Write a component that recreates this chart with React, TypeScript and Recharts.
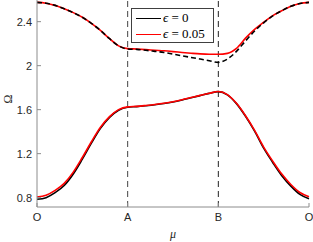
import React from 'react';
import { LineChart, Line, XAxis, YAxis, ReferenceLine } from 'recharts';

// path coordinate along O -> A -> B -> O
const mu = [
  0, 0.1, 0.2, 0.3, 0.4, 0.5, 0.6, 0.7, 0.8, 0.9, 1.0,
  1.1, 1.2, 1.3, 1.4, 1.5, 1.6, 1.7, 1.8, 1.9, 2.0,
  2.1, 2.2, 2.3, 2.4, 2.5, 2.6, 2.7, 2.8, 2.9, 3.0,
];

const lowerEps0 = [
  0.785, 0.8, 0.845, 0.91, 1.015, 1.15, 1.295, 1.43, 1.53, 1.595, 1.622,
  1.628, 1.636, 1.645, 1.656, 1.67, 1.688, 1.708, 1.728, 1.748, 1.764,
  1.735, 1.655, 1.54, 1.405, 1.25, 1.12, 1.0, 0.905, 0.83, 0.79,
];
const lowerEps005 = [
  0.806, 0.822, 0.866, 0.93, 1.032, 1.165, 1.308, 1.44, 1.536, 1.6, 1.625,
  1.63, 1.638, 1.647, 1.658, 1.672, 1.69, 1.71, 1.73, 1.749, 1.765,
  1.737, 1.658, 1.545, 1.412, 1.26, 1.132, 1.014, 0.92, 0.847, 0.808,
];
const upperEps0 = [
  2.575, 2.568, 2.548, 2.517, 2.482, 2.44, 2.385, 2.32, 2.245, 2.18, 2.152,
  2.148, 2.14, 2.13, 2.12, 2.105, 2.09, 2.075, 2.06, 2.045, 2.03,
  2.06, 2.13, 2.225, 2.315, 2.39, 2.452, 2.5, 2.54, 2.565, 2.575,
];
const upperEps005 = [
  2.575, 2.568, 2.548, 2.517, 2.482, 2.44, 2.385, 2.32, 2.245, 2.18, 2.155,
  2.151, 2.146, 2.14, 2.135, 2.128, 2.12, 2.113, 2.107, 2.104, 2.104,
  2.112, 2.158, 2.25, 2.33, 2.395, 2.455, 2.5, 2.54, 2.565, 2.575,
];

const xTicks = [0, 1, 2, 3];
const xLabels = ['O', 'A', 'B', 'O'];
const yTicks = [0.8, 1.2, 1.6, 2, 2.4];
const legendItems = [
  { value: '0', color: '#000000' },
  { value: '0.05', color: '#ff0000' },
];

const data = mu.map((m, i) => ({
  mu: m,
  lo0: lowerEps0[i],
  lo5: lowerEps005[i],
  up0: upperEps0[i],
  up5: upperEps005[i],
}));

const axisColor = '#8c8c8c';
const tickStyle = { fontSize: 11, fill: '#262626', fontFamily: 'Liberation Sans, Arial, sans-serif' };

function LegendBox() {
  return (
    <div
      style={{
        position: 'absolute',
        left: 131,
        top: 8,
        width: 83,
        height: 35,
        border: '1px solid #404040',
        background: '#fff',
        fontFamily: '"Liberation Serif", "Times New Roman", serif',
        fontSize: 13,
        color: '#000',
        paddingTop: 1,
        boxSizing: 'border-box',
      }}
    >
      {legendItems.map((it, i) => (
        <div key={i} style={{ display: 'flex', alignItems: 'center', height: 16, whiteSpace: 'nowrap' }}>
          <div style={{ width: 25, height: 0, borderTop: `1.3px solid ${it.color}`, marginLeft: 4, marginRight: 2 }} />
          <span>
            <i>ϵ</i>&nbsp;=&nbsp;{it.value}
          </span>
        </div>
      ))}
    </div>
  );
}

export default function App() {
  return (
    <div style={{ position: 'fixed', left: 0, top: 0, width: 313, height: 242, background: '#fff' }}>
      <LineChart width={313} height={242} data={data} margin={{ top: 0, right: 4, bottom: 0, left: 0 }}>
        <XAxis
          dataKey="mu"
          type="number"
          domain={[0, 3]}
          ticks={xTicks}
          interval={0}
          tickFormatter={(v: number) => xLabels[xTicks.indexOf(v)]}
          height={35}
          stroke={axisColor}
          tick={tickStyle}
          tickSize={-4}
          tickMargin={10}
          label={{ value: 'μ', position: 'insideBottom', offset: 4, style: { fontStyle: 'italic', fontFamily: 'Liberation Serif, serif', fontSize: 12, fill: '#262626' } }}
        />
        <XAxis xAxisId="top" orientation="top" dataKey="mu" type="number" domain={[0, 3]} ticks={xTicks} tick={false} height={0} stroke={axisColor} tickSize={-4} />
        <YAxis
          type="number"
          domain={[0.715, 2.597]}
          ticks={yTicks}
          interval={0}
          width={37}
          stroke={axisColor}
          tick={tickStyle}
          tickSize={-4}
          tickMargin={9}
          allowDataOverflow
          label={{ value: 'Ω', angle: -90, position: 'insideLeft', offset: 8, style: { fontFamily: 'Liberation Serif, serif', fontSize: 12, fill: '#262626' } }}
        />
        <YAxis yAxisId="right" orientation="right" type="number" domain={[0.715, 2.597]} ticks={yTicks} tick={false} width={0} stroke={axisColor} tickSize={-4} />
        <ReferenceLine x={1} stroke="#444" strokeDasharray="6 4" />
        <ReferenceLine x={2} stroke="#222" strokeDasharray="6 4" />
        <Line type="monotone" dataKey="lo0" stroke="#000" strokeWidth={1.6} dot={false} isAnimationActive={false} />
        <Line type="monotone" dataKey="lo5" stroke="#ff0000" strokeWidth={1.6} dot={false} isAnimationActive={false} />
        <Line type="monotone" dataKey="up5" stroke="#ff0000" strokeWidth={1.6} dot={false} isAnimationActive={false} />
        <Line type="monotone" dataKey="up0" stroke="#000" strokeWidth={1.6} strokeDasharray="5 3" dot={false} isAnimationActive={false} />
      </LineChart>
      <LegendBox />
    </div>
  );
}
